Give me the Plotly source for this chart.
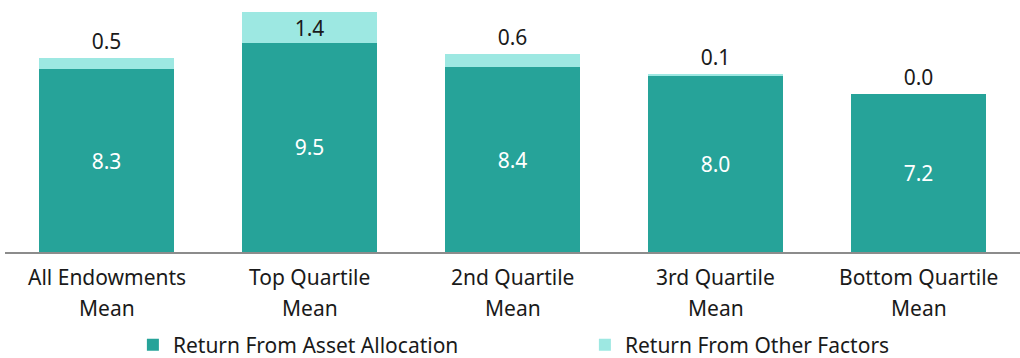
import plotly.graph_objects as go

categories = ["All Endowments<br>Mean", "Top Quartile<br>Mean", "2nd Quartile<br>Mean",
              "3rd Quartile<br>Mean", "Bottom Quartile<br>Mean"]
asset_allocation = [8.3, 9.5, 8.4, 8.0, 7.2]
other_factors = [0.5, 1.4, 0.6, 0.1, 0.0]

DARK = "#26a399"
LIGHT = "#9de8e2"
INK = "#1a1a1a"
FONT = "Noto Sans"
SIZE = 21

PLOT_H = 252  # pixel height of the plotting area

fig = go.Figure()
fig.add_trace(go.Bar(
    x=categories, y=asset_allocation, name="Return From Asset Allocation",
    marker=dict(color=DARK, line=dict(width=0)),
    text=[f"{v:.1f}" for v in asset_allocation],
    textposition="inside", insidetextanchor="middle",
    textfont=dict(color="white", size=SIZE, family=FONT),
    constraintext="none", hoverinfo="skip",
))
fig.add_trace(go.Bar(
    x=categories, y=other_factors, name="Return From Other Factors",
    marker=dict(color=LIGHT, line=dict(width=0)),
    text=[f"{v:.1f}" for v in other_factors],
    textposition=["outside", "inside", "outside", "outside", "outside"],
    insidetextanchor="middle",
    textfont=dict(color=INK, size=SIZE, family=FONT),
    constraintext="none", cliponaxis=False, hoverinfo="skip",
))

# Category labels: two lines each, drawn with looser line spacing
for cat in categories:
    first, second = cat.split("<br>")
    for line, top_px in ((first, 261), (second, 292)):
        fig.add_annotation(
            x=cat, xref="x", y=(PLOT_H - top_px) / PLOT_H, yref="paper",
            text=line, showarrow=False, xanchor="center", yanchor="top",
            font=dict(size=SIZE, family=FONT, color=INK),
        )

fig.update_layout(
    width=1020, height=358,
    margin=dict(l=5, r=0, t=0, b=358 - PLOT_H, autoexpand=False),
    barmode="stack", bargap=0.336,
    plot_bgcolor="white", paper_bgcolor="white",
    font=dict(family=FONT, size=SIZE, color=INK),
    showlegend=True,
    legend=dict(orientation="h", x=0.126, xanchor="left",
                y=(PLOT_H - 345) / PLOT_H, yanchor="middle",
                font=dict(size=SIZE, family=FONT, color=INK),
                entrywidth=407, traceorder="normal"),
)
fig.update_xaxes(showline=True, linecolor="#8c8c8c", linewidth=2, ticks="",
                 showticklabels=False, automargin=False)
fig.update_yaxes(visible=False, range=[0, 11.45], automargin=False)

fig.write_html("out.html")
